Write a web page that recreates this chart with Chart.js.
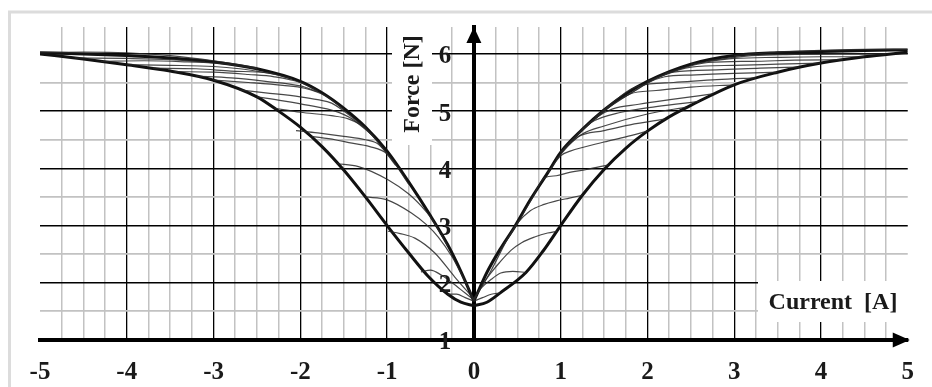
<!DOCTYPE html>
<html>
<head>
<meta charset="utf-8">
<script src="https://cdn.jsdelivr.net/npm/chart.js@4/dist/chart.umd.min.js"></script>
<style>
  html, body { margin: 0; padding: 0; background: #fff; }
  #wrap { width: 932px; height: 387px; }
</style>
</head>
<body>
<div id="wrap"><canvas id="force-chart" width="932" height="387"></canvas></div>
<script>
// Axis ranges and tick layout
const CURRENT_MIN = -5;
const CURRENT_MAX = 5;
const FORCE_MIN = 1;
const FORCE_MAX = 6.47;
const CURRENT_STEP = 0.25;
const FORCE_STEP = 0.5;

// Envelope: force while the current magnitude rises (wide branch)
const riseLeft = [[-5, 6.0], [-4.5, 5.91], [-4, 5.81], [-3.5, 5.7], [-3, 5.54], [-2.5, 5.25], [-2.25, 5.0],
  [-2, 4.72], [-1.75, 4.38], [-1.5, 3.97], [-1.25, 3.5], [-1, 3.0], [-0.75, 2.52], [-0.53, 2.12],
  [-0.3, 1.8], [-0.15, 1.66], [0, 1.6]];
const riseRight = [[0, 1.6], [0.15, 1.66], [0.3, 1.82], [0.6, 2.18], [0.8, 2.56], [1, 3.0], [1.25, 3.53],
  [1.5, 3.98], [1.75, 4.35], [2, 4.65], [2.25, 4.9], [2.5, 5.1], [3, 5.46], [3.5, 5.68], [4, 5.84], [4.5, 5.95], [5, 6.03]];

// Envelope: force while the current magnitude falls back (narrow branch)
const fallLeft = [[-5, 6.02], [-4.5, 6.0], [-4, 5.97], [-3.5, 5.93], [-3, 5.86], [-2.5, 5.74], [-2, 5.52],
  [-1.75, 5.32], [-1.5, 5.05], [-1.25, 4.72], [-1, 4.3], [-0.75, 3.76], [-0.5, 3.17], [-0.3, 2.66], [-0.15, 2.2], [0, 1.68]];
const fallRight = [[0, 1.68], [0.15, 2.18], [0.3, 2.58], [0.47, 2.98], [0.65, 3.45], [0.85, 3.92], [1, 4.28],
  [1.25, 4.68], [1.5, 5.02], [1.75, 5.3], [2, 5.52], [2.5, 5.82], [3, 5.97], [3.5, 6.02], [4, 6.04], [4.5, 6.06], [5, 6.07]];

// Minor loops, negative current (turning point first)
const revL1 = [[-0.3, 1.8], [-0.2, 1.8], [-0.1, 1.74], [0, 1.68]];
const revL2 = [[-0.61, 2.19], [-0.5, 2.22], [-0.38, 2.14], [-0.25, 2.0], [-0.1, 1.82], [0, 1.7]];
const revL3 = [[-0.99, 2.9], [-0.85, 2.86], [-0.68, 2.78], [-0.45, 2.52], [-0.22, 2.1], [0, 1.72]];
const revL4 = [[-1.25, 3.5], [-1.0, 3.45], [-0.72, 3.22], [-0.55, 3.02], [-0.41, 2.8], [-0.25, 2.45], [-0.1, 2.02], [0, 1.7]];
const revL5 = [[-1.58, 4.08], [-1.33, 4.03], [-0.99, 3.8], [-0.75, 3.55], [-0.6, 3.33], [-0.5, 3.15], [-0.3, 2.64]];
const revL6 = [[-1.87, 4.56], [-1.6, 4.5], [-1.44, 4.45], [-1.2, 4.38], [-1.0, 4.25], [-0.75, 3.72]];
const revL7 = [[-2.05, 4.66], [-1.8, 4.62], [-1.5, 4.56], [-1.25, 4.5], [-1.1, 4.42], [-0.9, 4.05]];
const revL8 = [[-2.3, 5.05], [-2.0, 4.98], [-1.64, 4.92], [-1.44, 4.86], [-1.25, 4.7], [-1.0, 4.26]];
const revL9 = [[-2.5, 5.25], [-2.2, 5.18], [-1.9, 5.1], [-1.6, 5.0], [-1.4, 4.86], [-1.15, 4.55]];
const revL10 = [[-2.7, 5.37], [-2.4, 5.32], [-2.0, 5.25], [-1.8, 5.2], [-1.64, 5.14], [-1.25, 4.71]];
const revL11 = [[-3, 5.54], [-2.6, 5.5], [-2.2, 5.45], [-1.95, 5.4], [-1.7, 5.26], [-1.5, 5.03]];
const revL12 = [[-3.2, 5.61], [-2.8, 5.58], [-2.4, 5.52], [-2.0, 5.44], [-1.8, 5.34]];
const revL13 = [[-3.45, 5.69], [-3.0, 5.68], [-2.6, 5.64], [-2.3, 5.6], [-2.0, 5.5], [-1.8, 5.35]];
const revL14 = [[-3.7, 5.75], [-3.2, 5.74], [-2.8, 5.7], [-2.4, 5.67], [-2.1, 5.57]];
const revL15 = [[-4, 5.81], [-3.5, 5.8], [-3.0, 5.78], [-2.7, 5.74], [-2.3, 5.65]];
const revL16 = [[-4.3, 5.87], [-3.8, 5.88], [-3.3, 5.86], [-2.9, 5.83], [-2.5, 5.74]];
const revL17 = [[-4.6, 5.93], [-4, 5.92], [-3.5, 5.9], [-3.1, 5.86]];
const revL18 = [[-5, 6.02], [-4.5, 6.03], [-4, 6.02], [-3.5, 5.97], [-3, 5.88], [-2.5, 5.76]];

// Minor loops, positive current
const revR1 = [[0, 1.68], [0.1, 1.74], [0.2, 1.8], [0.3, 1.82]];
const revR2 = [[0, 1.7], [0.08, 1.9], [0.2, 2.06], [0.31, 2.17], [0.45, 2.2], [0.6, 2.18]];
const revR3 = [[0, 1.72], [0.16, 2.1], [0.3, 2.36], [0.43, 2.57], [0.55, 2.7], [0.7, 2.8], [0.85, 2.87], [0.96, 2.9]];
const revR4 = [[0, 1.7], [0.2, 2.22], [0.4, 2.8], [0.5, 3.04], [0.65, 3.26], [0.81, 3.37], [0.95, 3.43], [1.1, 3.48], [1.25, 3.53]];
const revR5 = [[0.3, 2.57], [0.47, 2.96], [0.65, 3.42], [0.82, 3.84], [0.95, 3.87], [1.08, 3.92], [1.3, 3.98], [1.55, 4.06]];
const revR6 = [[0.85, 3.92], [1.0, 4.22], [1.11, 4.3], [1.5, 4.46], [1.75, 4.55], [2.0, 4.65]];
const revR7 = [[0.95, 4.16], [1.2, 4.55], [1.5, 4.66], [1.8, 4.76], [2.2, 4.86]];
const revR8 = [[1.0, 4.28], [1.25, 4.6], [1.5, 4.74], [2.0, 4.95], [2.45, 5.07]];
const revR9 = [[1.1, 4.45], [1.35, 4.8], [1.7, 4.98], [2.1, 5.08], [2.6, 5.17]];
const revR10 = [[1.0, 4.28], [1.4, 4.88], [1.6, 5.04], [1.9, 5.12], [2.26, 5.2], [2.75, 5.3]];
const revR11 = [[1.25, 4.68], [1.8, 5.3], [2.1, 5.36], [2.5, 5.42], [3, 5.46]];
const revR12 = [[1.4, 4.9], [1.9, 5.44], [2.3, 5.5], [2.8, 5.55], [3.25, 5.58]];
const revR13 = [[1.5, 5.02], [2.2, 5.6], [2.5, 5.63], [3, 5.66], [3.5, 5.68]];
const revR14 = [[1.7, 5.22], [2.3, 5.68], [2.8, 5.72], [3.3, 5.75], [3.75, 5.77]];
const revR15 = [[2.0, 5.52], [2.5, 5.77], [3, 5.8], [3.5, 5.82], [4, 5.84]];
const revR16 = [[2.2, 5.66], [2.7, 5.85], [3.2, 5.87], [3.7, 5.89], [4.25, 5.9]];
const revR17 = [[2.5, 5.82], [3, 5.92], [3.5, 5.94], [4, 5.95], [4.5, 5.95]];
const revR18 = [[2.7, 5.88], [3.2, 5.97], [3.7, 5.99], [4.2, 6.0], [4.75, 6.0]];
const revR19 = [[3, 5.97], [3.5, 6.03], [4, 6.06], [4.5, 6.08], [5, 6.08]];

const envelopes = [riseLeft, riseRight, fallLeft, fallRight];
const minorLoops = [revL1, revL2, revL3, revL4, revL5, revL6, revL7, revL8, revL9, revL10, revL11, revL12,
  revL13, revL14, revL15, revL16, revL17, revL18,
  revR1, revR2, revR3, revR4, revR5, revR6, revR7, revR8, revR9, revR10, revR11, revR12, revR13,
  revR14, revR15, revR16, revR17, revR18, revR19];

const SERIF_BOLD = 'bold 25px "Liberation Serif", "Times New Roman", serif';
const TITLE_FONT = 'bold 24px "Liberation Serif", "Times New Roman", serif';

function toPoints(pairs) {
  return pairs.map(p => ({ x: p[0], y: p[1] }));
}

function buildDatasets() {
  const sets = [];
  minorLoops.forEach(loop => {
    sets.push({
      data: toPoints(loop),
      borderColor: 'rgba(40, 40, 40, 0.85)',
      borderWidth: 1.2
    });
  });
  envelopes.forEach(branch => {
    sets.push({
      data: toPoints(branch),
      borderColor: '#111',
      borderWidth: 3
    });
  });
  return sets;
}

// Frame, white label boxes, axis arrows, force tick numbers and axis titles
const decorations = {
  id: 'decorations',
  beforeDraw(chart) {
    const ctx = chart.ctx;
    ctx.save();
    ctx.strokeStyle = '#dcdcdc';
    ctx.lineWidth = 3;
    ctx.strokeRect(9.5, 12, 960, 420);
    ctx.restore();
  },
  beforeDatasetsDraw(chart) {
    const ctx = chart.ctx;
    ctx.save();
    ctx.fillStyle = '#fff';
    ctx.fillRect(392, 27, 40, 118);
    ctx.fillRect(758, 281, 154, 41);
    ctx.restore();
  },
  afterDraw(chart) {
    const ctx = chart.ctx;
    const x = chart.scales.x;
    const y = chart.scales.y;
    const x0 = x.getPixelForValue(0);
    const yTop = y.getPixelForValue(FORCE_MAX);
    const yBase = y.getPixelForValue(FORCE_MIN);
    const xEnd = x.getPixelForValue(CURRENT_MAX);
    ctx.save();
    ctx.fillStyle = '#000';
    ctx.beginPath();
    ctx.moveTo(x0, yTop);
    ctx.lineTo(x0 - 7.5, yTop + 16);
    ctx.lineTo(x0 + 7.5, yTop + 16);
    ctx.closePath();
    ctx.fill();
    ctx.beginPath();
    ctx.moveTo(xEnd + 2, yBase);
    ctx.lineTo(xEnd - 15, yBase - 7.5);
    ctx.lineTo(xEnd - 15, yBase + 7.5);
    ctx.closePath();
    ctx.fill();

    ctx.font = SERIF_BOLD;
    ctx.fillStyle = '#1a1a1a';
    ctx.textAlign = 'center';
    ctx.textBaseline = 'middle';
    // force ticks sit just left of the vertical axis
    y.ticks.forEach(t => {
      if (Number.isInteger(t.value)) {
        ctx.fillText(String(t.value), x0 - 29, y.getPixelForValue(t.value) + 3);
      }
    });
    ctx.font = TITLE_FONT;
    ctx.fillText('Current  [A]', 833, 303);
    ctx.translate(413, 84);
    ctx.rotate(-Math.PI / 2);
    ctx.fillText('Force [N]', 0, 0);
    ctx.restore();
  }
};

function gridColour(ctx, edge) {
  const v = ctx.tick.value;
  if (Math.abs(v) === edge) return 'rgba(0,0,0,0)';
  return Number.isInteger(v) ? '#000' : '#c2c2c2';
}

function initializeChart() {
  const ctx = document.getElementById('force-chart').getContext('2d');
  return new Chart(ctx, {
    type: 'scatter',
    data: { datasets: buildDatasets() },
    options: {
      responsive: false,
      animation: false,
      events: [],
      showLine: true,
      layout: { padding: { left: 40, right: 20, top: 27, bottom: 0 } },
      elements: {
        point: { radius: 0 },
        line: { cubicInterpolationMode: 'monotone', fill: false }
      },
      plugins: {
        legend: { display: false },
        tooltip: { enabled: false }
      },
      scales: {
        x: {
          type: 'linear',
          position: 'bottom',
          min: CURRENT_MIN,
          max: CURRENT_MAX,
          afterFit(scale) { scale.height = 47; },
          ticks: {
            stepSize: CURRENT_STEP,
            autoSkip: false,
            maxRotation: 0,
            padding: 18,
            color: '#1a1a1a',
            font: { family: '"Liberation Serif", serif', size: 25, weight: 'bold' },
            callback: v => Number.isInteger(v) ? String(v) : ''
          },
          grid: {
            drawTicks: false,
            color: c => gridColour(c, 5),
            lineWidth: c => Number.isInteger(c.tick.value) ? 1.3 : 1.5
          },
          border: { color: '#000', width: 4 }
        },
        y: {
          type: 'linear',
          position: { x: 0 },
          min: FORCE_MIN,
          max: FORCE_MAX,
          ticks: {
            stepSize: FORCE_STEP,
            includeBounds: false,
            display: false
          },
          grid: {
            drawTicks: false,
            color: c => gridColour(c, 99),
            lineWidth: c => Number.isInteger(c.tick.value) ? 1.5 : 1.8
          },
          border: { color: '#000', width: 4 }
        }
      }
    },
    plugins: [decorations]
  });
}

initializeChart();
</script>
</body>
</html>
